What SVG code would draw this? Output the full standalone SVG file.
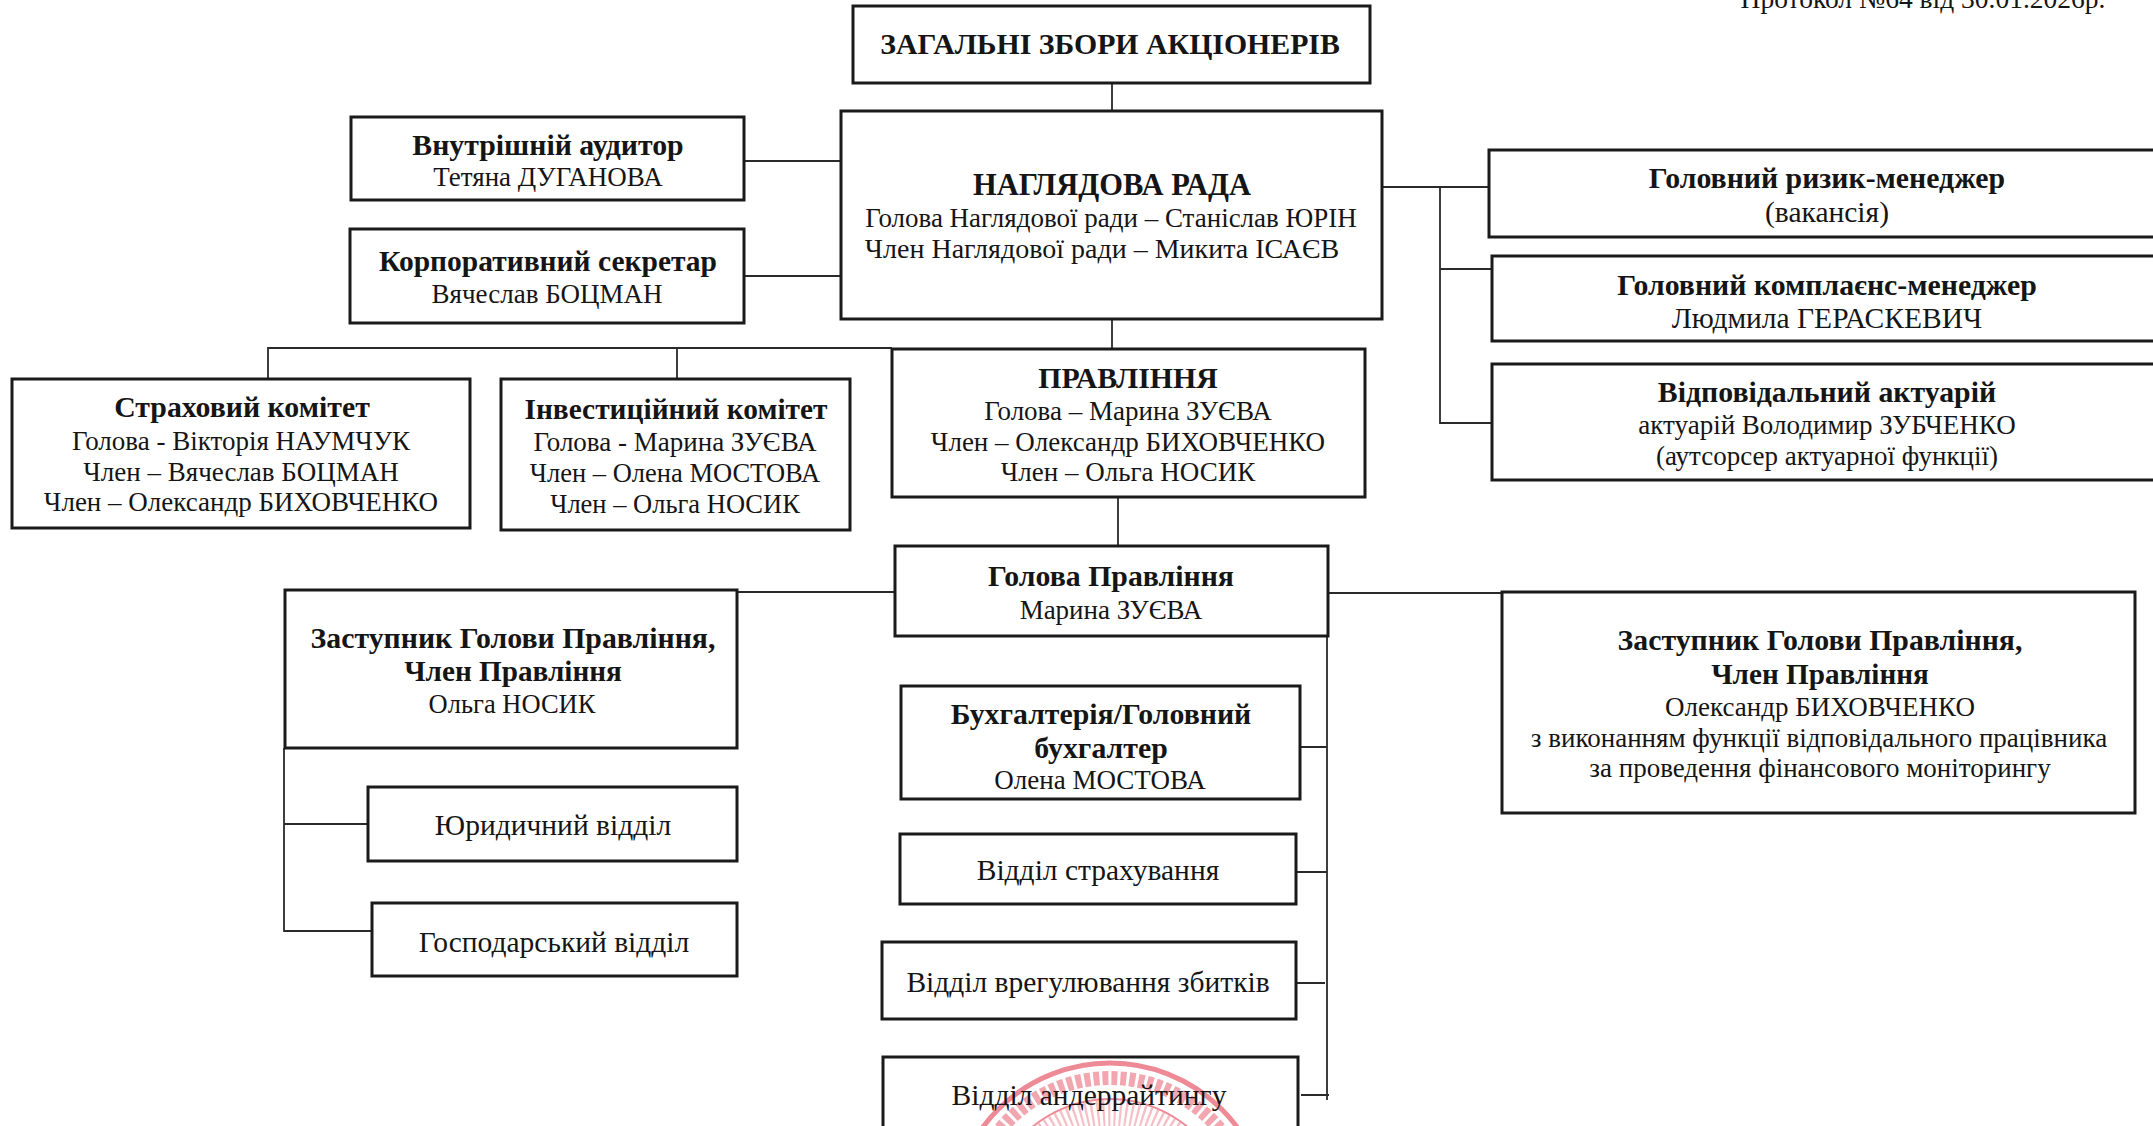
<svg xmlns="http://www.w3.org/2000/svg" width="2153" height="1126" viewBox="0 0 2153 1126">
<style>
text{font-family:"Liberation Serif","Times New Roman",serif;fill:#151515;text-anchor:middle;font-size:27px}
.b{font-weight:bold;font-size:29.8px}
.l{font-size:29.5px}
.box{fill:none;stroke:#1a1a1a;stroke-width:3}
.c{fill:none;stroke:#2a2a2a;stroke-width:1.8}
.s{fill:none;stroke:#ee8a96}
</style>
<rect width="2153" height="1126" fill="#fff"/>
<g id="stamp">
<circle class="s" cx="1110" cy="1221" r="158" stroke-width="5"/>
<circle class="s" cx="1110" cy="1221" r="143" stroke-width="14" stroke-dasharray="6 3" opacity=".75"/>
<circle class="s" cx="1110" cy="1221" r="122" stroke-width="2"/>
<circle class="s" cx="1110" cy="1221" r="96" stroke-width="50" stroke-dasharray="2 3" opacity=".55"/>
</g>
<g id="connectors">
<path class="c" d="M1112 83V111M744 161H841M744 276H841M1383 187H1489M1440 187V423H1492M1440 269H1492M1112 319V349M268 379V348H892M677 348V379M1118 497V546M737 592H895M1328 593H1502M1327 636V1100M1300 747H1327M1296 872H1327M1297 983H1325M1301 1095H1329M284 748V931H372M284 824H368"/>
</g>
<g id="protocol"><text x="1923" y="8" style="font-size:27.5px">Протокол №64 від 30.01.2026р.</text></g>
<g id="n-zbory"><rect class="box" x="853" y="6" width="517" height="77"/><text class="b" x="1110" y="54">ЗАГАЛЬНІ ЗБОРИ АКЦІОНЕРІВ</text></g>
<g id="n-rada"><rect class="box" x="841" y="111" width="541" height="208"/><text class="b" x="1112" y="195" style="font-size:30.5px">НАГЛЯДОВА РАДА</text><text x="1111" y="227">Голова Наглядової ради – Станіслав ЮРІН</text><text x="1102" y="258" style="font-size:28px">Член Наглядової ради – Микита ІСАЄВ</text></g>
<g id="n-auditor"><rect class="box" x="351" y="117" width="393" height="83"/><text class="b" x="548" y="155">Внутрішній аудитор</text><text x="548" y="186">Тетяна ДУГАНОВА</text></g>
<g id="n-sekretar"><rect class="box" x="350" y="229" width="394" height="94"/><text class="b" x="548" y="271" style="font-size:29.5px">Корпоративний секретар</text><text x="547" y="303">Вячеслав БОЦМАН</text></g>
<g id="n-ryzyk"><rect class="box" x="1489" y="150" width="680" height="87"/><text class="b" x="1827" y="188">Головний ризик-менеджер</text><text class="l" x="1827" y="222">(вакансія)</text></g>
<g id="n-komplaens"><rect class="box" x="1492" y="256" width="680" height="85"/><text class="b" x="1827" y="295">Головний комплаєнс-менеджер</text><text class="l" x="1827" y="328">Людмила ГЕРАСКЕВИЧ</text></g>
<g id="n-aktuarii"><rect class="box" x="1492" y="364" width="680" height="116"/><text class="b" x="1827" y="402">Відповідальний актуарій</text><text x="1827" y="434">актуарій Володимир ЗУБЧЕНКО</text><text x="1827" y="465">(аутсорсер актуарної функції)</text></g>
<g id="n-strakh-kom"><rect class="box" x="12" y="379" width="458" height="149"/><text class="b" x="242" y="417">Страховий комітет</text><text x="241" y="450">Голова - Вікторія НАУМЧУК</text><text x="241" y="481">Член – Вячеслав БОЦМАН</text><text x="241" y="511">Член – Олександр БИХОВЧЕНКО</text></g>
<g id="n-invest-kom"><rect class="box" x="501" y="379" width="349" height="151"/><text class="b" x="676" y="419" style="font-size:29.4px">Інвестиційний комітет</text><text x="675" y="451">Голова - Марина ЗУЄВА</text><text x="675" y="482" style="font-size:26.5px">Член – Олена МОСТОВА</text><text x="675" y="513" style="font-size:26.5px">Член – Ольга НОСИК</text></g>
<g id="n-pravlinnia"><rect class="box" x="892" y="349" width="473" height="148"/><text class="b" x="1128" y="388">ПРАВЛІННЯ</text><text x="1128" y="420">Голова – Марина ЗУЄВА</text><text x="1128" y="451">Член – Олександр БИХОВЧЕНКО</text><text x="1128" y="481">Член – Ольга НОСИК</text></g>
<g id="n-holova"><rect class="box" x="895" y="546" width="433" height="90"/><text class="b" x="1111" y="586">Голова Правління</text><text x="1111" y="619">Марина ЗУЄВА</text></g>
<g id="n-zast-left"><rect class="box" x="285" y="590" width="452" height="158"/><text class="b" x="513" y="648">Заступник Голови Правління,</text><text class="b" x="513" y="681" style="font-size:29.2px">Член Правління</text><text x="512" y="713" style="font-size:26.5px">Ольга НОСИК</text></g>
<g id="n-zast-right"><rect class="box" x="1502" y="592" width="633" height="221"/><text class="b" x="1820" y="650">Заступник Голови Правління,</text><text class="b" x="1820" y="684" style="font-size:29.2px">Член Правління</text><text x="1820" y="716">Олександр БИХОВЧЕНКО</text><text x="1819" y="747">з виконанням функції відповідального працівника</text><text x="1820" y="777">за проведення фінансового моніторингу</text></g>
<g id="n-bukh"><rect class="box" x="901" y="686" width="399" height="113"/><text class="b" x="1101" y="724">Бухгалтерія/Головний</text><text class="b" x="1101" y="758">бухгалтер</text><text x="1100" y="789">Олена МОСТОВА</text></g>
<g id="n-strakhuvannia"><rect class="box" x="900" y="834" width="396" height="70"/><text class="l" x="1098" y="880">Відділ страхування</text></g>
<g id="n-vrehuliuvannia"><rect class="box" x="882" y="942" width="414" height="77"/><text class="l" x="1088" y="992">Відділ врегулювання збитків</text></g>
<g id="n-anderraitynh"><rect class="box" x="883" y="1057" width="415" height="90"/><text class="l" x="1089" y="1105">Відділ андеррайтингу</text></g>
<g id="n-yurydychnyi"><rect class="box" x="368" y="787" width="369" height="74"/><text class="l" x="553" y="835">Юридичний відділ</text></g>
<g id="n-hospodarskyi"><rect class="box" x="372" y="903" width="365" height="73"/><text class="l" x="554" y="952">Господарський відділ</text></g>
</svg>
